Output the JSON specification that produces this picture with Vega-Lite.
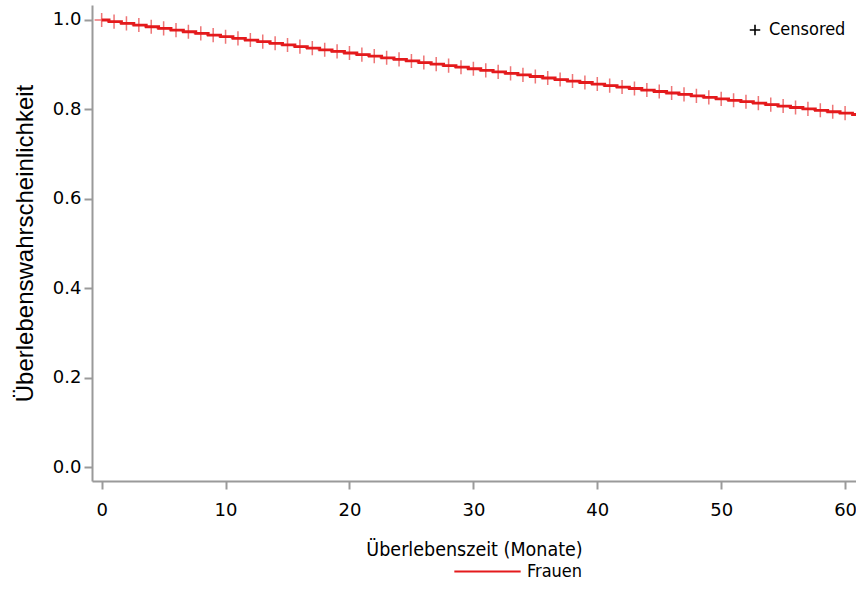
{
  "$schema": "https://vega.github.io/schema/vega-lite/v6.json",
  "width": 764,
  "height": 476,
  "padding": {"left": 92, "top": 5, "right": 0, "bottom": 125},
  "autosize": {"type": "none"},
  "background": "white",
  "config": {
    "view": {"stroke": null},
    "font": "DejaVu Sans Condensed",
    "axis": {
      "domainColor": "#9a9a9a",
      "domainWidth": 2,
      "tickColor": "#9a9a9a",
      "tickWidth": 2,
      "tickSize": 8,
      "labelColor": "#000000",
      "labelFontSize": 18,
      "labelFont": "DejaVu Sans",
      "titleFont": "DejaVu Sans Condensed",
      "titleFontSize": 19.5,
      "titleFontWeight": "normal",
      "titleColor": "#000000",
      "grid": false
    },
    "legend": {
      "labelFont": "DejaVu Sans Condensed",
      "labelFontSize": 18,
      "labelColor": "#000000"
    }
  },
  "datasets": {
    "curve": [
      {"t": 0, "s": 1.0, "group": "Frauen"},
      {"t": 0.6, "s": 0.9962, "group": "Frauen"},
      {"t": 1.6, "s": 0.9924, "group": "Frauen"},
      {"t": 2.6, "s": 0.9887, "group": "Frauen"},
      {"t": 3.6, "s": 0.9849, "group": "Frauen"},
      {"t": 4.6, "s": 0.9811, "group": "Frauen"},
      {"t": 5.6, "s": 0.9774, "group": "Frauen"},
      {"t": 6.6, "s": 0.9737, "group": "Frauen"},
      {"t": 7.6, "s": 0.9700, "group": "Frauen"},
      {"t": 8.6, "s": 0.9662, "group": "Frauen"},
      {"t": 9.6, "s": 0.9626, "group": "Frauen"},
      {"t": 10.6, "s": 0.9589, "group": "Frauen"},
      {"t": 11.6, "s": 0.9552, "group": "Frauen"},
      {"t": 12.6, "s": 0.9515, "group": "Frauen"},
      {"t": 13.6, "s": 0.9479, "group": "Frauen"},
      {"t": 14.6, "s": 0.9442, "group": "Frauen"},
      {"t": 15.6, "s": 0.9406, "group": "Frauen"},
      {"t": 16.6, "s": 0.9370, "group": "Frauen"},
      {"t": 17.6, "s": 0.9334, "group": "Frauen"},
      {"t": 18.6, "s": 0.9298, "group": "Frauen"},
      {"t": 19.6, "s": 0.9262, "group": "Frauen"},
      {"t": 20.6, "s": 0.9226, "group": "Frauen"},
      {"t": 21.6, "s": 0.9191, "group": "Frauen"},
      {"t": 22.6, "s": 0.9155, "group": "Frauen"},
      {"t": 23.6, "s": 0.9120, "group": "Frauen"},
      {"t": 24.6, "s": 0.9084, "group": "Frauen"},
      {"t": 25.6, "s": 0.9049, "group": "Frauen"},
      {"t": 26.6, "s": 0.9014, "group": "Frauen"},
      {"t": 27.6, "s": 0.8979, "group": "Frauen"},
      {"t": 28.6, "s": 0.8944, "group": "Frauen"},
      {"t": 29.6, "s": 0.8910, "group": "Frauen"},
      {"t": 30.6, "s": 0.8875, "group": "Frauen"},
      {"t": 31.6, "s": 0.8840, "group": "Frauen"},
      {"t": 32.6, "s": 0.8806, "group": "Frauen"},
      {"t": 33.6, "s": 0.8772, "group": "Frauen"},
      {"t": 34.6, "s": 0.8737, "group": "Frauen"},
      {"t": 35.6, "s": 0.8703, "group": "Frauen"},
      {"t": 36.6, "s": 0.8669, "group": "Frauen"},
      {"t": 37.6, "s": 0.8635, "group": "Frauen"},
      {"t": 38.6, "s": 0.8602, "group": "Frauen"},
      {"t": 39.6, "s": 0.8568, "group": "Frauen"},
      {"t": 40.6, "s": 0.8534, "group": "Frauen"},
      {"t": 41.6, "s": 0.8501, "group": "Frauen"},
      {"t": 42.6, "s": 0.8468, "group": "Frauen"},
      {"t": 43.6, "s": 0.8434, "group": "Frauen"},
      {"t": 44.6, "s": 0.8401, "group": "Frauen"},
      {"t": 45.6, "s": 0.8368, "group": "Frauen"},
      {"t": 46.6, "s": 0.8336, "group": "Frauen"},
      {"t": 47.6, "s": 0.8303, "group": "Frauen"},
      {"t": 48.6, "s": 0.8270, "group": "Frauen"},
      {"t": 49.6, "s": 0.8238, "group": "Frauen"},
      {"t": 50.6, "s": 0.8205, "group": "Frauen"},
      {"t": 51.6, "s": 0.8173, "group": "Frauen"},
      {"t": 52.6, "s": 0.8141, "group": "Frauen"},
      {"t": 53.6, "s": 0.8108, "group": "Frauen"},
      {"t": 54.6, "s": 0.8076, "group": "Frauen"},
      {"t": 55.6, "s": 0.8044, "group": "Frauen"},
      {"t": 56.6, "s": 0.8013, "group": "Frauen"},
      {"t": 57.6, "s": 0.7981, "group": "Frauen"},
      {"t": 58.6, "s": 0.7949, "group": "Frauen"},
      {"t": 59.6, "s": 0.7918, "group": "Frauen"},
      {"t": 60.6, "s": 0.7887, "group": "Frauen"},
      {"t": 62, "s": 0.7887, "group": "Frauen"}
    ],
    "censor": [
      {"t": 0, "s": 1.0, "status": "Censored"},
      {"t": 1, "s": 0.9962, "status": "Censored"},
      {"t": 2, "s": 0.9924, "status": "Censored"},
      {"t": 3, "s": 0.9887, "status": "Censored"},
      {"t": 4, "s": 0.9849, "status": "Censored"},
      {"t": 5, "s": 0.9811, "status": "Censored"},
      {"t": 6, "s": 0.9774, "status": "Censored"},
      {"t": 7, "s": 0.9737, "status": "Censored"},
      {"t": 8, "s": 0.9700, "status": "Censored"},
      {"t": 9, "s": 0.9662, "status": "Censored"},
      {"t": 10, "s": 0.9626, "status": "Censored"},
      {"t": 11, "s": 0.9589, "status": "Censored"},
      {"t": 12, "s": 0.9552, "status": "Censored"},
      {"t": 13, "s": 0.9515, "status": "Censored"},
      {"t": 14, "s": 0.9479, "status": "Censored"},
      {"t": 15, "s": 0.9442, "status": "Censored"},
      {"t": 16, "s": 0.9406, "status": "Censored"},
      {"t": 17, "s": 0.9370, "status": "Censored"},
      {"t": 18, "s": 0.9334, "status": "Censored"},
      {"t": 19, "s": 0.9298, "status": "Censored"},
      {"t": 20, "s": 0.9262, "status": "Censored"},
      {"t": 21, "s": 0.9226, "status": "Censored"},
      {"t": 22, "s": 0.9191, "status": "Censored"},
      {"t": 23, "s": 0.9155, "status": "Censored"},
      {"t": 24, "s": 0.9120, "status": "Censored"},
      {"t": 25, "s": 0.9084, "status": "Censored"},
      {"t": 26, "s": 0.9049, "status": "Censored"},
      {"t": 27, "s": 0.9014, "status": "Censored"},
      {"t": 28, "s": 0.8979, "status": "Censored"},
      {"t": 29, "s": 0.8944, "status": "Censored"},
      {"t": 30, "s": 0.8910, "status": "Censored"},
      {"t": 31, "s": 0.8875, "status": "Censored"},
      {"t": 32, "s": 0.8840, "status": "Censored"},
      {"t": 33, "s": 0.8806, "status": "Censored"},
      {"t": 34, "s": 0.8772, "status": "Censored"},
      {"t": 35, "s": 0.8737, "status": "Censored"},
      {"t": 36, "s": 0.8703, "status": "Censored"},
      {"t": 37, "s": 0.8669, "status": "Censored"},
      {"t": 38, "s": 0.8635, "status": "Censored"},
      {"t": 39, "s": 0.8602, "status": "Censored"},
      {"t": 40, "s": 0.8568, "status": "Censored"},
      {"t": 41, "s": 0.8534, "status": "Censored"},
      {"t": 42, "s": 0.8501, "status": "Censored"},
      {"t": 43, "s": 0.8468, "status": "Censored"},
      {"t": 44, "s": 0.8434, "status": "Censored"},
      {"t": 45, "s": 0.8401, "status": "Censored"},
      {"t": 46, "s": 0.8368, "status": "Censored"},
      {"t": 47, "s": 0.8336, "status": "Censored"},
      {"t": 48, "s": 0.8303, "status": "Censored"},
      {"t": 49, "s": 0.8270, "status": "Censored"},
      {"t": 50, "s": 0.8238, "status": "Censored"},
      {"t": 51, "s": 0.8205, "status": "Censored"},
      {"t": 52, "s": 0.8173, "status": "Censored"},
      {"t": 53, "s": 0.8141, "status": "Censored"},
      {"t": 54, "s": 0.8108, "status": "Censored"},
      {"t": 55, "s": 0.8076, "status": "Censored"},
      {"t": 56, "s": 0.8044, "status": "Censored"},
      {"t": 57, "s": 0.8013, "status": "Censored"},
      {"t": 58, "s": 0.7981, "status": "Censored"},
      {"t": 59, "s": 0.7949, "status": "Censored"},
      {"t": 60, "s": 0.7918, "status": "Censored"}
    ]
  },
  "layer": [
    {
      "data": {"name": "curve"},
      "mark": {"type": "line", "interpolate": "step-after", "strokeWidth": 2.8, "clip": true},
      "encoding": {
        "x": {
          "field": "t", "type": "quantitative",
          "scale": {"domain": [-0.78, 60.88], "nice": false, "zero": false},
          "axis": {"values": [0, 10, 20, 30, 40, 50, 60], "title": "Überlebenszeit (Monate)", "labelPadding": 12, "titlePadding": 21}
        },
        "y": {
          "field": "s", "type": "quantitative",
          "scale": {"domain": [-0.0306, 1.0335], "nice": false, "zero": false},
          "axis": {"values": [0, 0.2, 0.4, 0.6, 0.8, 1.0], "format": ".1f", "title": "Überlebenswahrscheinlichkeit", "titleFont": "Liberation Sans", "titleFontSize": 24, "labelPadding": 3, "titlePadding": 15}
        },
        "color": {
          "field": "group", "type": "nominal",
          "scale": {"range": ["#e41a1c"]},
          "legend": {
            "title": null,
            "orient": "none",
            "legendX": 361,
            "legendY": 532,
            "direction": "horizontal",
            "symbolType": "stroke",
            "symbolSize": 4400,
            "symbolStrokeWidth": 2,
            "labelOffset": 5
          }
        }
      }
    },
    {
      "data": {"name": "censor"},
      "mark": {"type": "point", "filled": false, "strokeWidth": 1.5, "opacity": 0.6, "clip": true, "color": "#e41a1c"},
      "encoding": {
        "x": {"field": "t", "type": "quantitative"},
        "y": {"field": "s", "type": "quantitative"},
        "shape": {
          "field": "status", "type": "nominal",
          "scale": {"range": ["M-1,0L1,0M0,-1L0,1"]},
          "legend": {
            "title": null,
            "orient": "none",
            "legendX": 654,
            "legendY": 16,
            "symbolStrokeColor": "#000000",
            "symbolSize": 110,
            "symbolStrokeWidth": 1.6,
            "symbolOpacity": 1,
            "labelOffset": 5
          }
        },
        "size": {"value": 200}
      }
    }
  ]
}
